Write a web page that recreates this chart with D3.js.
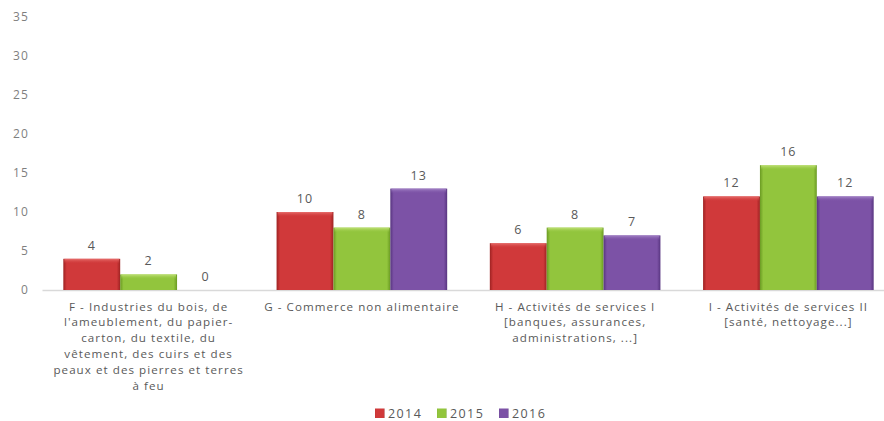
<!DOCTYPE html>
<html>
<head>
<meta charset="utf-8">
<script src="https://cdn.jsdelivr.net/npm/d3@7"></script>
<style>
  html, body { margin: 0; padding: 0; background: #ffffff; }
  svg { display: block; }
  text { font-family: "Open Sans", Lato, sans-serif; fill: #595959; }
</style>
</head>
<body>
<svg id="chart" width="884" height="421"></svg>
<script>
// Sectors (label lines) and yearly counts
const categories = ["F", "G", "H", "I"];
const categoryLabels = [
  ["F - Industries du bois, de", "l'ameublement, du papier-", "carton, du textile, du", "vêtement, des cuirs et des", "peaux et des pierres et terres", "à feu"],
  ["G - Commerce non alimentaire"],
  ["H - Activités de services I", "[banques, assurances,", "administrations, ...]"],
  ["I - Activités de services II", "[santé, nettoyage...]"]
];
const series = ["2014", "2015", "2016"];
const values2014 = [4, 10, 6, 12];
const values2015 = [2, 8, 8, 16];
const values2016 = [0, 13, 7, 12];
const yTicks = [0, 5, 10, 15, 20, 25, 30, 35];
const seriesColors = ["#d0393a", "#92c53d", "#7c52a6"];
const seriesDark = ["#9e2222", "#6a9a22", "#583580"];
const seriesLight = ["#e8706e", "#c2e27a", "#a585c8"];

const valuesBySeries = [values2014, values2015, values2016];

const svg = d3.select("#chart");
const plot = { left: 42, right: 895, top: 17, bottom: 290 };

const x = d3.scaleBand().domain(categories).range([plot.left, plot.right]).padding(0);
const xs = d3.scaleBand().domain(series)
  .range([x.bandwidth() * 0.1, x.bandwidth() * 0.9]).padding(0);
const y = d3.scaleLinear().domain([0, 35]).range([plot.bottom, plot.top]);

// Bevel-style fills
const defs = svg.append("defs");
series.forEach((s, i) => {
  const g = defs.append("linearGradient").attr("id", "grad" + i)
    .attr("x1", "0").attr("x2", "1").attr("y1", "0").attr("y2", "0");
  g.append("stop").attr("offset", "0").attr("stop-color", seriesDark[i]);
  g.append("stop").attr("offset", "0.06").attr("stop-color", seriesColors[i]);
  g.append("stop").attr("offset", "0.94").attr("stop-color", seriesColors[i]);
  g.append("stop").attr("offset", "1").attr("stop-color", seriesDark[i]);
  const t = defs.append("linearGradient").attr("id", "top" + i)
    .attr("x1", "0").attr("x2", "0").attr("y1", "0").attr("y2", "1");
  t.append("stop").attr("offset", "0").attr("stop-color", seriesLight[i]);
  t.append("stop").attr("offset", "1").attr("stop-color", seriesColors[i]).attr("stop-opacity", 0);
});

// Y axis labels (no line, no ticks)
const yAxis = d3.axisLeft(y).tickValues(yTicks).tickSize(0).tickPadding(0);
const yg = svg.append("g").attr("transform", `translate(29,0)`).call(yAxis);
yg.select(".domain").remove();
yg.selectAll("text").style("font-size", "12px").style("fill", "#7f7f7f")
  .style("letter-spacing", "1.2px")
  .style("font-family", "'Open Sans', Lato, sans-serif");

// Category axis baseline
const xAxis = d3.axisBottom(x).tickSize(0).tickFormat("");
const xg = svg.append("g").attr("transform", `translate(0,${plot.bottom})`).call(xAxis);
xg.select(".domain").attr("stroke", "#d9d9d9").attr("stroke-width", 1.5);

// Bars
const groups = svg.append("g").selectAll("g").data(categories).join("g")
  .attr("transform", d => `translate(${x(d)},0)`);

series.forEach((s, i) => {
  const vals = valuesBySeries[i];
  groups.append("rect")
    .attr("x", xs(s))
    .attr("y", (d, j) => y(vals[j]))
    .attr("width", xs.bandwidth())
    .attr("height", (d, j) => y(0) - y(vals[j]))
    .attr("fill", `url(#grad${i})`);
  groups.append("rect")
    .attr("x", xs(s) + 1)
    .attr("y", (d, j) => y(vals[j]))
    .attr("width", xs.bandwidth() - 2)
    .attr("height", (d, j) => Math.min(5, y(0) - y(vals[j])))
    .attr("fill", `url(#top${i})`);
  groups.append("text")
    .attr("x", xs(s) + xs.bandwidth() / 2)
    .attr("y", (d, j) => y(vals[j]) - 9)
    .attr("text-anchor", "middle")
    .style("font-size", "12.5px")
    .style("letter-spacing", "1px")
    .text((d, j) => vals[j]);
});

// Category labels
groups.append("text")
  .attr("text-anchor", "middle")
  .style("font-size", "11.6px")
  .style("letter-spacing", "1.05px")
  .attr("x", x.bandwidth() / 2)
  .attr("y", 310.5)
  .each(function (d, j) {
    d3.select(this).selectAll("tspan").data(categoryLabels[j]).join("tspan")
      .attr("x", x.bandwidth() / 2)
      .attr("dy", (l, k) => k === 0 ? 0 : 15.9)
      .text(l => l);
  });

// Legend
const legend = svg.append("g").attr("transform", "translate(375,413)");
const legendStep = 62;
series.forEach((s, i) => {
  const lg = legend.append("g").attr("transform", `translate(${i * legendStep},0)`);
  lg.append("rect").attr("x", 0).attr("y", -4.5).attr("width", 9.5).attr("height", 9.5)
    .attr("fill", `url(#grad${i})`);
  lg.append("text").attr("x", 13).attr("y", 5).style("font-size", "12.5px")
    .style("letter-spacing", "1.4px").text(s);
});
</script>
</body>
</html>
